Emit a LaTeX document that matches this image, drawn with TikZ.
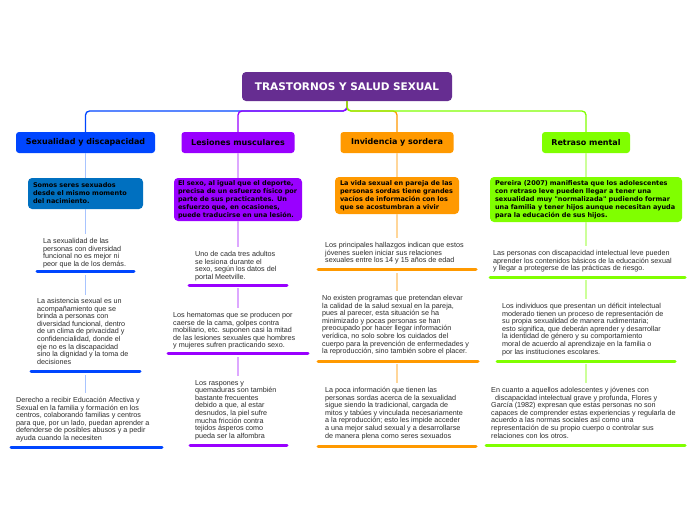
\documentclass[tikz,border=0pt]{standalone}
\usepackage{fontspec}
\setmainfont{Liberation Sans}
\newfontfamily\dvs{DejaVu Sans}
\definecolor{rootc}{HTML}{662D91}
\definecolor{cblue}{HTML}{0046FF}
\definecolor{cbox}{HTML}{0070C0}
\definecolor{cpurp}{HTML}{9900FF}
\definecolor{corng}{HTML}{FF9900}
\definecolor{cgrn}{HTML}{80FF00}
\definecolor{lblue}{HTML}{A8C4FF}
\definecolor{lpurp}{HTML}{DDA8FF}
\definecolor{lorng}{HTML}{FFD699}
\definecolor{lgrn}{HTML}{CCFF99}
\definecolor{txt}{HTML}{2B2B2B}
\tikzset{
  rootbox/.style={fill=rootc, rounded corners=4pt, minimum width=210pt, minimum height=29pt, inner sep=0pt, text=white, font=\dvs\bfseries\fontsize{10.5}{12}\selectfont},
  topic/.style={rounded corners=3pt, minimum height=21pt, inner sep=0pt, font=\dvs\bfseries\fontsize{8}{9}\selectfont, text=black},
  idea/.style={rounded corners=4pt, inner ysep=0pt, align=left, font=\dvs\bfseries\fontsize{6.5}{8}\selectfont, text=black},
  note/.style={anchor=north west, inner sep=0pt, align=left, font=\fontsize{7.2}{7.6}\selectfont, text=txt},
  mainline/.style={line width=1.3pt, rounded corners=4pt},
  lightline/.style={line width=1.2pt},
  uline/.style={line width=3pt, line cap=round}
}
\begin{document}
\begin{tikzpicture}[x=1pt,y=-1pt]
\useasboundingbox[fill=white] (0,0) rectangle (696,520);
% root and topics
\node[rootbox] (root) at (347,86.5) {TRASTORNOS Y SALUD SEXUAL};
\coordinate (hub) at (347,111);
\node[topic, fill=cblue, minimum width=139pt] (t1) at (85.5,142.5) {Sexualidad y discapacidad};
\node[topic, fill=cpurp, minimum width=113pt] (t2) at (238,142.5) {Lesiones musculares};
\node[topic, fill=corng, minimum width=113pt] (t3) at (397,142.5) {Invidencia y sordera};
\node[topic, fill=cgrn, minimum width=88pt] (t4) at (586,142.5) {Retraso mental};
\draw[mainline, cblue] (root.south) -- (hub) -| (t1.north);
\draw[mainline, cpurp] (root.south) -- (hub) -| (t2.north);
\draw[mainline, corng] (root.south) -- (hub) -| (t3.north);
\draw[mainline, cgrn] (root.south) -- (hub) -| (t4.north);

% column 1
\node[idea, fill=cbox, minimum width=115pt, minimum height=31pt, text width=105pt, inner xsep=5pt] (b1) at (85.5,193.5) {Somos seres sexuados\\desde el mismo momento\\del nacimiento.};
\node[note] (n11) at (43,238) {La sexualidad de las\\personas con diversidad\\funcional no es mejor ni\\peor que la de los demás.};
\draw[uline, cblue] (37,271.5) -- (134,271.5);
\coordinate (u11) at (85.5,275);
\node[note] (n12) at (37,298) {La asistencia sexual es un\\acompañamiento que se\\brinda a personas con\\diversidad funcional, dentro\\de un clima de privacidad y\\confidencialidad, donde el\\eje no es la discapacidad\\sino la dignidad y la toma de\\decisiones};
\draw[uline, cblue] (31,371) -- (140,371);
\coordinate (u12) at (85.5,375);
\node[note] (n13) at (16,397) {Derecho a recibir Educación Afectiva y\\Sexual en la familia y formación en los\\centros, colaborando familias y centros\\para que, por un lado, puedan aprender a\\defenderse de posibles abusos y a pedir\\ayuda cuando la necesiten};
\draw[uline, cblue] (11,447) -- (162,447);
\draw[lightline, lblue] (t1.south) -- (b1.north);
\draw[lightline, lblue, shorten >=4pt] (b1.south) -- (b1.south |- n11.north);
\draw[lightline, lblue, shorten >=3pt] (u11) -- (u11 |- n12.north);
\draw[lightline, lblue, shorten >=4pt] (u12) -- (u12 |- n13.north);

% column 2
\node[idea, fill=cpurp, minimum width=128pt, minimum height=43pt, text width=120pt, inner xsep=4pt] (b2) at (238,199.5) {El sexo, al igual que el deporte,\\precisa de un esfuerzo físico por\\parte de sus practicantes. Un\\esfuerzo que, en ocasiones,\\puede traducirse en una lesión.};
\node[note] (n21) at (195,251) {Uno de cada tres adultos\\se lesiona durante el\\sexo, según los datos del\\portal Meetville.};
\draw[uline, cpurp] (189,285) -- (287,285);
\coordinate (u21) at (238,288);
\node[note] (n22) at (173,312) {Los hematomas que se producen por\\caerse de la cama, golpes contra\\mobiliario, etc. suponen casi la mitad\\de las lesiones sexuales que hombres\\y mujeres sufren practicando sexo.};
\draw[uline, cpurp] (168,353) -- (308,353);
\coordinate (u22) at (238,357);
\node[note] (n23) at (195,380) {Los raspones y\\quemaduras son también\\bastante frecuentes\\debido a que, al estar\\desnudos, la piel sufre\\mucha fricción contra\\tejidos ásperos como\\pueda ser la alfombra};
\draw[uline, cpurp] (190,445) -- (287,445);
\draw[lightline, lpurp] (t2.south) -- (b2.north);
\draw[lightline, lpurp, shorten >=4pt] (b2.south) -- (b2.south |- n21.north);
\draw[lightline, lpurp, shorten >=4pt] (u21) -- (u21 |- n22.north);
\draw[lightline, lpurp, shorten >=4pt] (u22) -- (u22 |- n23.north);

% column 3
\node[idea, fill=corng, minimum width=124pt, minimum height=37pt, text width=114pt, inner xsep=5pt] (b3) at (397,195.5) {La vida sexual en pareja de las\\personas sordas tiene grandes\\vacíos de información con los\\que se acostumbran a vivir};
\node[note] (n31) at (325,242) {Los principales hallazgos indican que estos\\jóvenes suelen iniciar sus relaciones\\sexuales entre los 14 y 15 años de edad};
\draw[uline, corng] (318,269.5) -- (476,269.5);
\coordinate (u31) at (397,273);
\node[note] (n32) at (322,295) {No existen programas que pretendan elevar\\la calidad de la salud sexual en la pareja,\\pues al parecer, esta situación se ha\\minimizado y pocas personas se han\\preocupado por hacer llegar información\\verídica, no solo sobre los cuidados del\\cuerpo para la prevención de enfermedades y\\la reproducción, sino también sobre el placer.};
\draw[uline, corng] (318,361) -- (478,361);
\coordinate (u32) at (397,364);
\node[note] (n33) at (325,387) {La poca información que tienen las\\personas sordas acerca de la sexualidad\\sigue siendo la tradicional, cargada de\\mitos y tabúes y vinculada necesariamente\\a la reproducción; esto les impide acceder\\a una mejor salud sexual y a desarrollarse\\de manera plena como seres sexuados};
\draw[uline, corng] (318,446) -- (476,446);
\draw[lightline, lorng] (t3.south) -- (b3.north);
\draw[lightline, lorng, shorten >=4pt] (b3.south) -- (b3.south |- n31.north);
\draw[lightline, lorng, shorten >=4pt] (u31) -- (u31 |- n32.north);
\draw[lightline, lorng, shorten >=4pt] (u32) -- (u32 |- n33.north);

% column 4
\node[idea, fill=cgrn, minimum width=192pt, minimum height=45pt, text width=182pt, inner xsep=5pt] (b4) at (586,199.5) {Pereira (2007) manifiesta que los adolescentes\\con retraso leve pueden llegar a tener una\\sexualidad muy "normalizada" pudiendo formar\\una familia y tener hijos aunque necesitan ayuda\\para la educación de sus hijos.};
\node[note] (n41) at (493,250) {Las personas con discapacidad intelectual leve pueden\\aprender los contenidos básicos de la educación sexual\\y llegar a protegerse de las prácticas de riesgo.};
\draw[uline, cgrn] (490,277) -- (685,277);
\coordinate (u41) at (586,280);
\node[note] (n42) at (502,303) {Los individuos que presentan un déficit intelectual\\moderado tienen un proceso de representación de\\su propia sexualidad de manera rudimentaria;\\esto significa, que deberán aprender y desarrollar\\la identidad de género y su comportamiento\\moral de acuerdo al aprendizaje en la familia o\\por las instituciones escolares.};
\draw[uline, cgrn] (497,361) -- (675,361);
\coordinate (u42) at (586,364);
\node[note] (n43) at (491,387) {En cuanto a aquellos adolescentes y jóvenes con\\\ \ discapacidad intelectual grave y profunda, Flores y\\García (1982) expresan que estas personas no son\\capaces de comprender estas experiencias y regularla de\\acuerdo a las normas sociales así como una\\representación de su propio cuerpo o controlar sus\\relaciones con los otros.};
\draw[uline, cgrn] (486,445) -- (685,445);
\draw[lightline, lgrn] (t4.south) -- (b4.north);
\draw[lightline, lgrn, shorten >=4pt] (b4.south) -- (b4.south |- n41.north);
\draw[lightline, lgrn, shorten >=4pt] (u41) -- (u41 |- n42.north);
\draw[lightline, lgrn, shorten >=4pt] (u42) -- (u42 |- n43.north);
\end{tikzpicture}
\end{document}
